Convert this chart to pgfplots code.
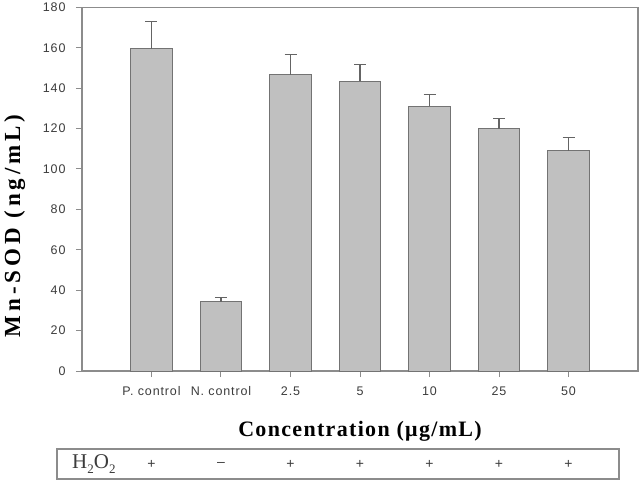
\documentclass[border=0pt]{standalone}
\usepackage{fontspec}
\usepackage{pgfplots}
\pgfplotsset{compat=1.18}
\setmainfont{Liberation Serif}
\newfontfamily\tickfont[LetterSpace=7]{Liberation Sans}
\newfontfamily\xlabfont[LetterSpace=6]{Liberation Serif}
\newfontfamily\ylabfont[LetterSpace=17]{Liberation Serif}
\definecolor{barfill}{RGB}{192,192,192}
\definecolor{baredge}{RGB}{115,115,115}
\definecolor{errgray}{RGB}{100,100,100}
\definecolor{axgray}{RGB}{140,140,140}
\definecolor{txtgray}{RGB}{60,60,60}
\begin{document}
\begin{tikzpicture}[x=1pt,y=1pt]
\useasboundingbox (-82,-109) rectangle (562,371);
\begin{axis}[
  at={(0,0)}, anchor=south west,
  width=556pt, height=363.7pt, scale only axis,
  xmin=-1, xmax=7, ymin=0, ymax=180,
  ytick={0,20,...,180},
  xtick={0,...,6},
  xticklabels={P. control,N. control,2.5,5,10,25,50},
  axis line style={axgray, line width=1.2pt},
  tick style={axgray, line width=1pt},
  tick align=outside, major tick length=6pt,
  xtick pos=bottom, ytick pos=left,
  /pgf/number format/assume math mode=true,
  ticklabel style={font=\tickfont\fontsize{12.5}{12.5}\selectfont, text=txtgray},
  yticklabel style={xshift=-7pt},
  xticklabel style={yshift=-6pt},
  xlabel={Concentration (μg/mL)},
  xlabel style={font=\xlabfont\bfseries\fontsize{22}{22}\selectfont, at={(axis description cs:0.5,0)}, anchor=center, yshift=-60pt},
  ylabel={Mn-SOD (ng/mL)},
  ylabel style={font=\ylabfont\bfseries\fontsize{23}{23}\selectfont, at={(axis description cs:-0.121,0.399)}, anchor=center},
  clip=false,
]
\addplot[ybar, bar width=41.7pt, fill=barfill, draw=baredge, line width=1pt,
  error bars/.cd, y dir=plus, y explicit,
  error bar style={line width=1.2pt, color=errgray},
  error mark options={rotate=90, mark size=6pt, line width=1.2pt, color=errgray}]
coordinates {
 (0,159.5) +- (0,13.3)
 (1,34.3)  +- (0,2.2)
 (2,146.5) +- (0,10)
 (3,143.5) +- (0,8)
 (4,131)   +- (0,6)
 (5,120)   +- (0,5)
 (6,109)   +- (0,6.5)
};
\node[txtgray, font=\tickfont\fontsize{14}{14}\selectfont] at ([yshift=-93pt]axis cs:0,0) {+};
\node[txtgray, font=\tickfont\fontsize{14}{14}\selectfont] at ([yshift=-93pt]axis cs:1,0) {–};
\node[txtgray, font=\tickfont\fontsize{14}{14}\selectfont] at ([yshift=-93pt]axis cs:2,0) {+};
\node[txtgray, font=\tickfont\fontsize{14}{14}\selectfont] at ([yshift=-93pt]axis cs:3,0) {+};
\node[txtgray, font=\tickfont\fontsize{14}{14}\selectfont] at ([yshift=-93pt]axis cs:4,0) {+};
\node[txtgray, font=\tickfont\fontsize{14}{14}\selectfont] at ([yshift=-93pt]axis cs:5,0) {+};
\node[txtgray, font=\tickfont\fontsize{14}{14}\selectfont] at ([yshift=-93pt]axis cs:6,0) {+};
\end{axis}
\draw[axgray, line width=1.2pt] (-25,-78) rectangle (537,-108);
\node[anchor=west, inner sep=0pt, text=txtgray, font=\fontsize{21}{21}\selectfont] at (-10,-93)
  {H\raisebox{-0.22em}{\fontsize{13}{13}\selectfont 2}O\raisebox{-0.22em}{\fontsize{13}{13}\selectfont 2}};
\end{tikzpicture}
\end{document}
